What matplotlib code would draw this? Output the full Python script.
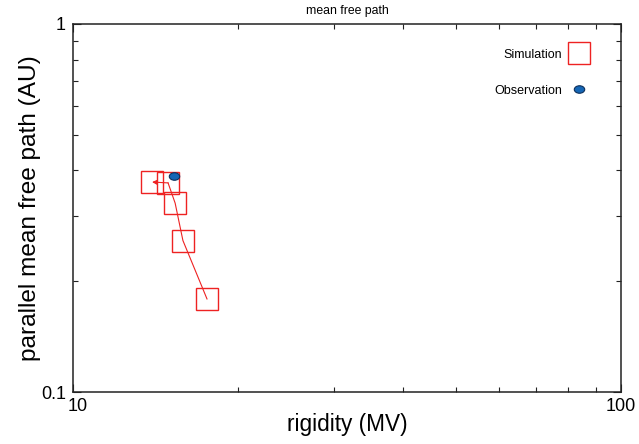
import matplotlib
matplotlib.use("Agg")
import matplotlib.pyplot as plt
from matplotlib.markers import MarkerStyle
from matplotlib.transforms import Affine2D, ScaledTranslation
from matplotlib.ticker import LogLocator, FuncFormatter, NullFormatter

plt.rcParams['font.family'] = ['Liberation Sans', 'DejaVu Sans']

# Data
sim_rigidity = [17.56, 15.87, 15.36, 14.91, 13.94]
sim_mfp = [0.179, 0.258, 0.326, 0.370, 0.372]
obs_rigidity = [15.29]
obs_mfp = [0.387]
series_labels = ["Simulation", "Observation"]
title_text = "mean free path"
xlabel_text = "rigidity (MV)"
ylabel_text = "parallel mean free path (AU)"

fig = plt.figure(figsize=(6.39, 4.44), dpi=100)
ax = fig.add_axes([73/639, (444-392)/444, 548/639, 368/444])

red = '#ee2222'
sq = ax.plot(sim_rigidity, sim_mfp, linestyle='none', marker='s', markersize=15.8,
             markerfacecolor='none', markeredgecolor=red, markeredgewidth=1.0,
             label=series_labels[0], zorder=3)[0]
# path line through the simulation points, arrow on the last segment
ax.plot(sim_rigidity[:-1], sim_mfp[:-1], color=red, lw=0.8, zorder=2)
ax.annotate('', xy=(sim_rigidity[-1], sim_mfp[-1]), xytext=(sim_rigidity[-2], sim_mfp[-2]),
            arrowprops=dict(arrowstyle='-|>', color=red, lw=0.8, mutation_scale=7,
                            shrinkA=0, shrinkB=0), zorder=2)

ell = MarkerStyle('o', transform=Affine2D().scale(1.0, 0.72))
ob = ax.plot(obs_rigidity, obs_mfp, linestyle='none', marker=ell, markersize=7.5,
             markerfacecolor='#1566b5', markeredgecolor='#0d2f5a', markeredgewidth=0.8,
             label=series_labels[1], zorder=4)[0]

ax.set_xscale('log')
ax.set_yscale('log')
ax.set_xlim(10, 100)
ax.set_ylim(0.1, 1)

fmt = FuncFormatter(lambda v, p: '%g' % v)
ax.xaxis.set_major_formatter(fmt)
ax.yaxis.set_major_formatter(fmt)
ax.xaxis.set_minor_formatter(NullFormatter())
ax.yaxis.set_minor_formatter(NullFormatter())
ax.xaxis.set_minor_locator(LogLocator(base=10, subs=range(2, 10)))
ax.yaxis.set_minor_locator(LogLocator(base=10, subs=range(2, 10)))

ax.tick_params(which='both', direction='in', top=True, right=True, width=0.8, color='#222222')
ax.tick_params(which='major', length=6, labelsize=13)
ax.tick_params(which='minor', length=3.5)
ax.tick_params(axis='x', which='major', pad=4)
ax.tick_params(axis='y', which='major', pad=5)
for s in ax.spines.values():
    s.set_linewidth(1.1)
    s.set_color('#222222')

fig.canvas.draw()
xl = ax.get_xticklabels()
for lab in xl:
    if lab.get_text() == '10':
        lab.set_transform(lab.get_transform() + ScaledTranslation(5/100, 0, fig.dpi_scale_trans))

ax.set_xlabel(xlabel_text, fontsize=16.3, labelpad=-1)
ax.set_ylabel(ylabel_text, fontsize=17.6, labelpad=0)
ax.set_title(title_text, fontsize=8.8, pad=7)

leg = ax.legend(handles=[sq, ob], loc='upper right', bbox_to_anchor=(0.963, 0.963),
                markerfirst=False, frameon=False, fontsize=9, handlelength=1.6,
                labelspacing=1.9, handletextpad=0.6)

fig.savefig('out.png', dpi=100)
